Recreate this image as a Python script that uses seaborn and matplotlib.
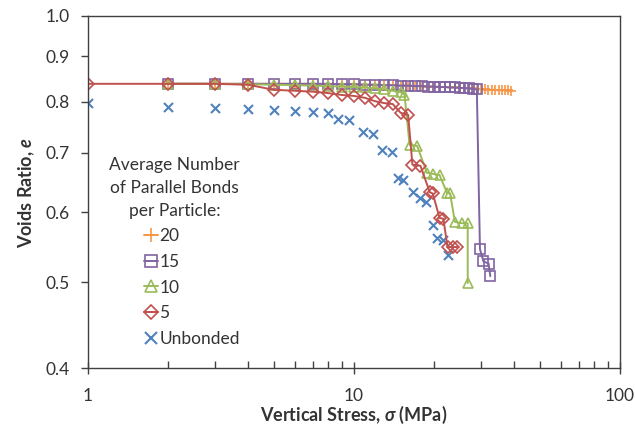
import numpy as np
import pandas as pd
import matplotlib
matplotlib.use("Agg")
import matplotlib.pyplot as plt
from matplotlib.ticker import FixedLocator, FormatStrFormatter, NullLocator, LogLocator, NullFormatter
from matplotlib.lines import Line2D
import seaborn as sns

# ---- data ----
x20 = [2, 3, 4, 5, 6, 7, 8, 9, 10, 11, 12, 13, 14, 15, 16, 17, 18, 19, 20, 21, 22, 23, 24, 25,
       26, 27, 28, 29, 30, 31, 32, 33, 34, 35, 36, 37, 38, 39]
y20 = [0.838, 0.838, 0.838, 0.838, 0.838, 0.838, 0.837, 0.837, 0.837, 0.836, 0.836, 0.835, 0.835, 0.834,
       0.834, 0.833, 0.833, 0.832, 0.832, 0.831, 0.831, 0.830, 0.830, 0.829, 0.829, 0.828, 0.828, 0.827,
       0.826, 0.826, 0.825, 0.825, 0.825, 0.824, 0.824, 0.824, 0.824, 0.823]

x15 = [2, 3, 4, 5, 6, 7, 8, 9, 10, 11, 12, 13, 14, 15, 16, 17, 18, 19, 20, 21, 22, 23, 24, 25,
       26, 27, 28, 29, 29.8, 30.7, 32.1, 32.6]
y15 = [0.838, 0.838, 0.838, 0.838, 0.838, 0.838, 0.838, 0.837, 0.837, 0.836, 0.836, 0.835, 0.835, 0.834,
       0.834, 0.833, 0.833, 0.832, 0.832, 0.831, 0.831, 0.830, 0.830, 0.829, 0.829, 0.828, 0.827, 0.826,
       0.545, 0.528, 0.525, 0.508]

x10 = [2, 3, 4, 5, 6, 7, 8, 9, 10, 11, 12, 13, 14, 15, 15.5, 16.2, 17.3, 18.8, 19.8, 21.0, 22.4,
       23.0, 24.0, 25.5, 26.8, 26.8]
y10 = [0.838, 0.838, 0.837, 0.836, 0.835, 0.834, 0.833, 0.832, 0.831, 0.830, 0.828, 0.826, 0.823, 0.820,
       0.815, 0.715, 0.713, 0.665, 0.663, 0.661, 0.631, 0.630, 0.585, 0.583, 0.583, 0.499]

x5 = [1, 2, 3, 4, 5, 6, 7, 8, 9, 10, 11, 12, 13, 14, 15, 16, 16.6, 17.8, 19.3, 19.8, 21.0, 21.7,
      22.5, 23.6, 24.5]
y5 = [0.838, 0.838, 0.838, 0.836, 0.825, 0.823, 0.821, 0.818, 0.814, 0.812, 0.808, 0.801, 0.797, 0.795,
      0.777, 0.773, 0.679, 0.677, 0.632, 0.630, 0.591, 0.590, 0.548, 0.548, 0.548]

x0 = [1, 2, 3, 4, 5, 6, 7, 8, 8.7, 9.6, 10.8, 11.8, 12.8, 13.9, 14.6, 15.3, 16.7, 17.7, 18.7,
      19.8, 20.5, 21.6, 22.5]
y0 = [0.798, 0.789, 0.787, 0.785, 0.783, 0.781, 0.779, 0.777, 0.765, 0.763, 0.740, 0.736, 0.706,
      0.702, 0.656, 0.653, 0.632, 0.622, 0.616, 0.580, 0.561, 0.558, 0.537]

labels = ["20", "15", "10", "5", "Unbonded"]
colors = ["#F79646", "#8064A2", "#9BBB59", "#C0504D", "#4F81BD"]
y_ticks = [0.4, 0.5, 0.6, 0.7, 0.8, 0.9, 1.0]
x_ticks = [1, 10, 100]

# ---- style ----
sns.set_theme(style="white")
plt.rcParams["font.family"] = ["Lato", "DejaVu Sans"]
plt.rcParams["mathtext.fontset"] = "custom"
plt.rcParams["mathtext.it"] = "Lato:italic"
plt.rcParams["mathtext.bf"] = "Lato:bold"
try:
    plt.rcParams["mathtext.bfit"] = "Lato:bold:italic"
except KeyError:
    pass

fig = plt.figure(figsize=(6.35, 4.29), dpi=100)
ax = fig.add_axes([0.1386, 0.142, 0.976 - 0.1386, 0.963 - 0.142])

lw = 1.4
ms = 6.5
mew = 1.2
txt = "#333333"

sns.lineplot(x=x20, y=y20, ax=ax, color=colors[0], marker="+", markersize=ms + 1, markeredgewidth=mew,
             markeredgecolor=colors[0], linewidth=lw, sort=False, estimator=None)
sns.lineplot(x=x15, y=y15, ax=ax, color=colors[1], marker="s", markersize=ms, markeredgewidth=mew,
             markerfacecolor="none", markeredgecolor=colors[1], linewidth=lw, sort=False, estimator=None)
sns.lineplot(x=x10, y=y10, ax=ax, color=colors[2], marker="^", markersize=ms + 0.5, markeredgewidth=mew,
             markerfacecolor="none", markeredgecolor=colors[2], linewidth=lw, sort=False, estimator=None)
sns.lineplot(x=x5, y=y5, ax=ax, color=colors[3], marker="D", markersize=ms - 0.5, markeredgewidth=mew,
             markerfacecolor="none", markeredgecolor=colors[3], linewidth=lw, sort=False, estimator=None)
sns.scatterplot(x=x0, y=y0, ax=ax, color=colors[4], marker="x", s=42, linewidth=1.5)

ax.set_xscale("log")
ax.set_yscale("log")
ax.set_xlim(1, 100)
ax.set_ylim(0.4, 1.0)

ax.yaxis.set_major_locator(FixedLocator(y_ticks))
ax.yaxis.set_major_formatter(FormatStrFormatter("%.1f"))
ax.yaxis.set_minor_locator(NullLocator())
ax.xaxis.set_major_locator(FixedLocator(x_ticks))
ax.xaxis.set_major_formatter(FormatStrFormatter("%g"))
ax.xaxis.set_minor_locator(LogLocator(base=10, subs=np.arange(2, 10)))
ax.xaxis.set_minor_formatter(NullFormatter())

for s in ax.spines.values():
    s.set_color("#404040")
    s.set_linewidth(1.0)

ax.tick_params(axis="y", which="major", direction="out", length=5, width=1, color="#404040",
               labelsize=12.5, labelcolor=txt, pad=8, left=True)
ax.tick_params(axis="x", which="major", direction="inout", length=8, width=1, color="#404040",
               labelsize=12.5, labelcolor=txt, pad=10, bottom=True)
ax.tick_params(axis="x", which="minor", direction="in", length=5, width=1, color="#404040", bottom=True)

ax.set_xlabel(r"Vertical Stress, $\mathbfit{\sigma}$ (MPa)", fontsize=13, fontweight="bold",
              color=txt, labelpad=0)
ax.set_ylabel(r"Voids Ratio, $\mathbfit{e}$", fontsize=13, fontweight="bold", color=txt,
              labelpad=6)

handles = [
    Line2D([], [], color=colors[0], marker="+", markersize=ms + 3, markeredgewidth=mew, linewidth=lw),
    Line2D([], [], color=colors[1], marker="s", markersize=ms + 1.5, markeredgewidth=mew,
           markerfacecolor="none", linewidth=lw),
    Line2D([], [], color=colors[2], marker="^", markersize=ms + 2, markeredgewidth=mew,
           markerfacecolor="none", linewidth=lw),
    Line2D([], [], color=colors[3], marker="D", markersize=ms + 0.5, markeredgewidth=mew,
           markerfacecolor="none", linewidth=lw),
    Line2D([], [], color=colors[4], marker="x", markersize=ms + 1.5, markeredgewidth=1.5, linewidth=0),
]
leg = ax.legend(handles, labels, title="Average Number\nof Parallel Bonds\nper Particle:",
                loc="upper left", bbox_to_anchor=(0.02, 0.63), frameon=False, fontsize=12.5,
                title_fontsize=12.5, handlelength=0.8, handletextpad=0.05, labelspacing=0.55,
                borderaxespad=0.2)
leg.get_title().set_multialignment("center")
leg.get_title().set_linespacing(1.55)
leg.get_title().set_color(txt)
for t in leg.get_texts():
    t.set_color(txt)
leg._legend_box.align = "right"

fig.savefig("out.png", dpi=100)
